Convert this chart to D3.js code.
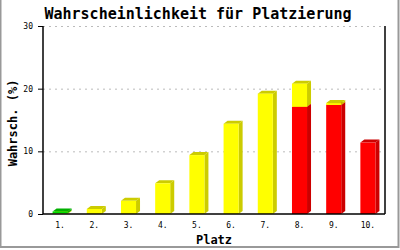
<!DOCTYPE html>
<html>
<head>
<meta charset="utf-8">
<script src="https://cdn.jsdelivr.net/npm/d3@7"></script>
<style>
  body { margin: 0; background: #fff; }
  svg { display: block; font-family: "DejaVu Sans Mono", "Liberation Mono", monospace; }
</style>
</head>
<body>
<svg id="chart"></svg>
<script>
// categories and series (bottom to top: rot, gelb, gruen)
const plaetze = ["1.", "2.", "3.", "4.", "5.", "6.", "7.", "8.", "9.", "10."];
const rot   = [0, 0, 0, 0, 0, 0, 0, 17.1, 17.4, 11.4];
const gelb  = [0.1, 0.8, 2.1, 4.9, 9.4, 14.4, 19.2, 3.7, 0.3, 0];
const gruen = [0.3, 0, 0, 0, 0, 0, 0, 0, 0, 0];
const yTicks = [0, 10, 20, 30];

const W = 400, H = 250;
const margin = { top: 26, right: 15, bottom: 36, left: 43 };
const width = W - margin.left - margin.right;
const height = H - margin.top - margin.bottom;
const depthX = 4, depthY = 3;

const series = [
  { name: "rot", values: rot, front: "#ff0000", side: "#cc0000" },
  { name: "gelb", values: gelb, front: "#ffff00", side: "#cccc00" },
  { name: "gruen", values: gruen, front: "#00dd00", side: "#00b000" }
];

const svg = d3.select("#chart").attr("width", W).attr("height", H);

// outer frame
svg.append("rect")
  .attr("x", 0.5).attr("y", -2).attr("width", W - 2).attr("height", H - 1)
  .attr("fill", "none").attr("stroke", "#999").attr("stroke-width", 2);

const chart = svg.append("g").attr("transform", `translate(${margin.left},${margin.top})`);

const x = d3.scaleBand().domain(plaetze).range([0, width]).paddingInner(0.56).paddingOuter(0.28);
const y = d3.scaleLinear().domain([0, 30]).range([height, 0]);

// gridlines
chart.selectAll(".grid").data(yTicks.filter(d => d > 0)).join("line")
  .attr("x1", 0).attr("x2", width)
  .attr("y1", d => y(d) + 0.5).attr("y2", d => y(d) + 0.5)
  .attr("stroke", "#bbb").attr("stroke-dasharray", "2,4");

// stacked 3d bars
plaetze.forEach((p, i) => {
  let base = 0;
  series.forEach(s => {
    const v = s.values[i];
    if (v <= 0) return;
    const x0 = x(p), x1 = x(p) + x.bandwidth();
    const yb = y(base), yt = y(base + v);
    // side face
    chart.append("path")
      .attr("d", `M${x1},${yb} L${x1 + depthX},${yb - depthY} L${x1 + depthX},${yt - depthY} L${x1},${yt} Z`)
      .attr("fill", s.side);
    // top face
    chart.append("path")
      .attr("d", `M${x0},${yt} L${x0 + depthX},${yt - depthY} L${x1 + depthX},${yt - depthY} L${x1},${yt} Z`)
      .attr("fill", s.side);
    // front face
    chart.append("rect")
      .attr("x", x0).attr("y", yt)
      .attr("width", x.bandwidth()).attr("height", yb - yt)
      .attr("fill", s.front);
    base += v;
  });
});

// axes
const yAxis = d3.axisLeft(y).tickValues(yTicks).tickSize(5).tickPadding(5);
const yAxisG = chart.append("g").call(yAxis);
yAxisG.select(".domain").attr("stroke", "#000").attr("stroke-width", 1.5).attr("d", `M0,0V${height}`);
yAxisG.selectAll("text").attr("font-size", 8).attr("font-family", "DejaVu Sans Mono").attr("fill", "#000");

const xAxis = d3.axisBottom(x).tickSize(0).tickPadding(8);
const xAxisG = chart.append("g").attr("transform", `translate(0,${height})`).call(xAxis);
xAxisG.select(".domain").attr("stroke", "#000").attr("stroke-width", 1.5).attr("d", `M0,0H${width}`);
xAxisG.selectAll("text").attr("font-size", 8).attr("font-family", "DejaVu Sans Mono").attr("fill", "#000");

// right frame
chart.append("line")
  .attr("x1", width).attr("x2", width).attr("y1", 0).attr("y2", height)
  .attr("stroke", "#000").attr("stroke-width", 1.5);

// titles
svg.append("text")
  .attr("x", 198).attr("y", 19)
  .attr("text-anchor", "middle").attr("font-size", 15).attr("font-weight", "bold")
  .text("Wahrscheinlichkeit für Platzierung");

svg.append("text")
  .attr("x", margin.left + width / 2).attr("y", 244)
  .attr("text-anchor", "middle").attr("font-size", 12).attr("font-weight", "bold")
  .text("Platz");

svg.append("text")
  .attr("transform", `translate(17,${margin.top + height / 2 + 3}) rotate(-90)`)
  .attr("text-anchor", "middle").attr("font-size", 12).attr("font-weight", "bold")
  .text("Wahrsch. (%)");
</script>
</body>
</html>
